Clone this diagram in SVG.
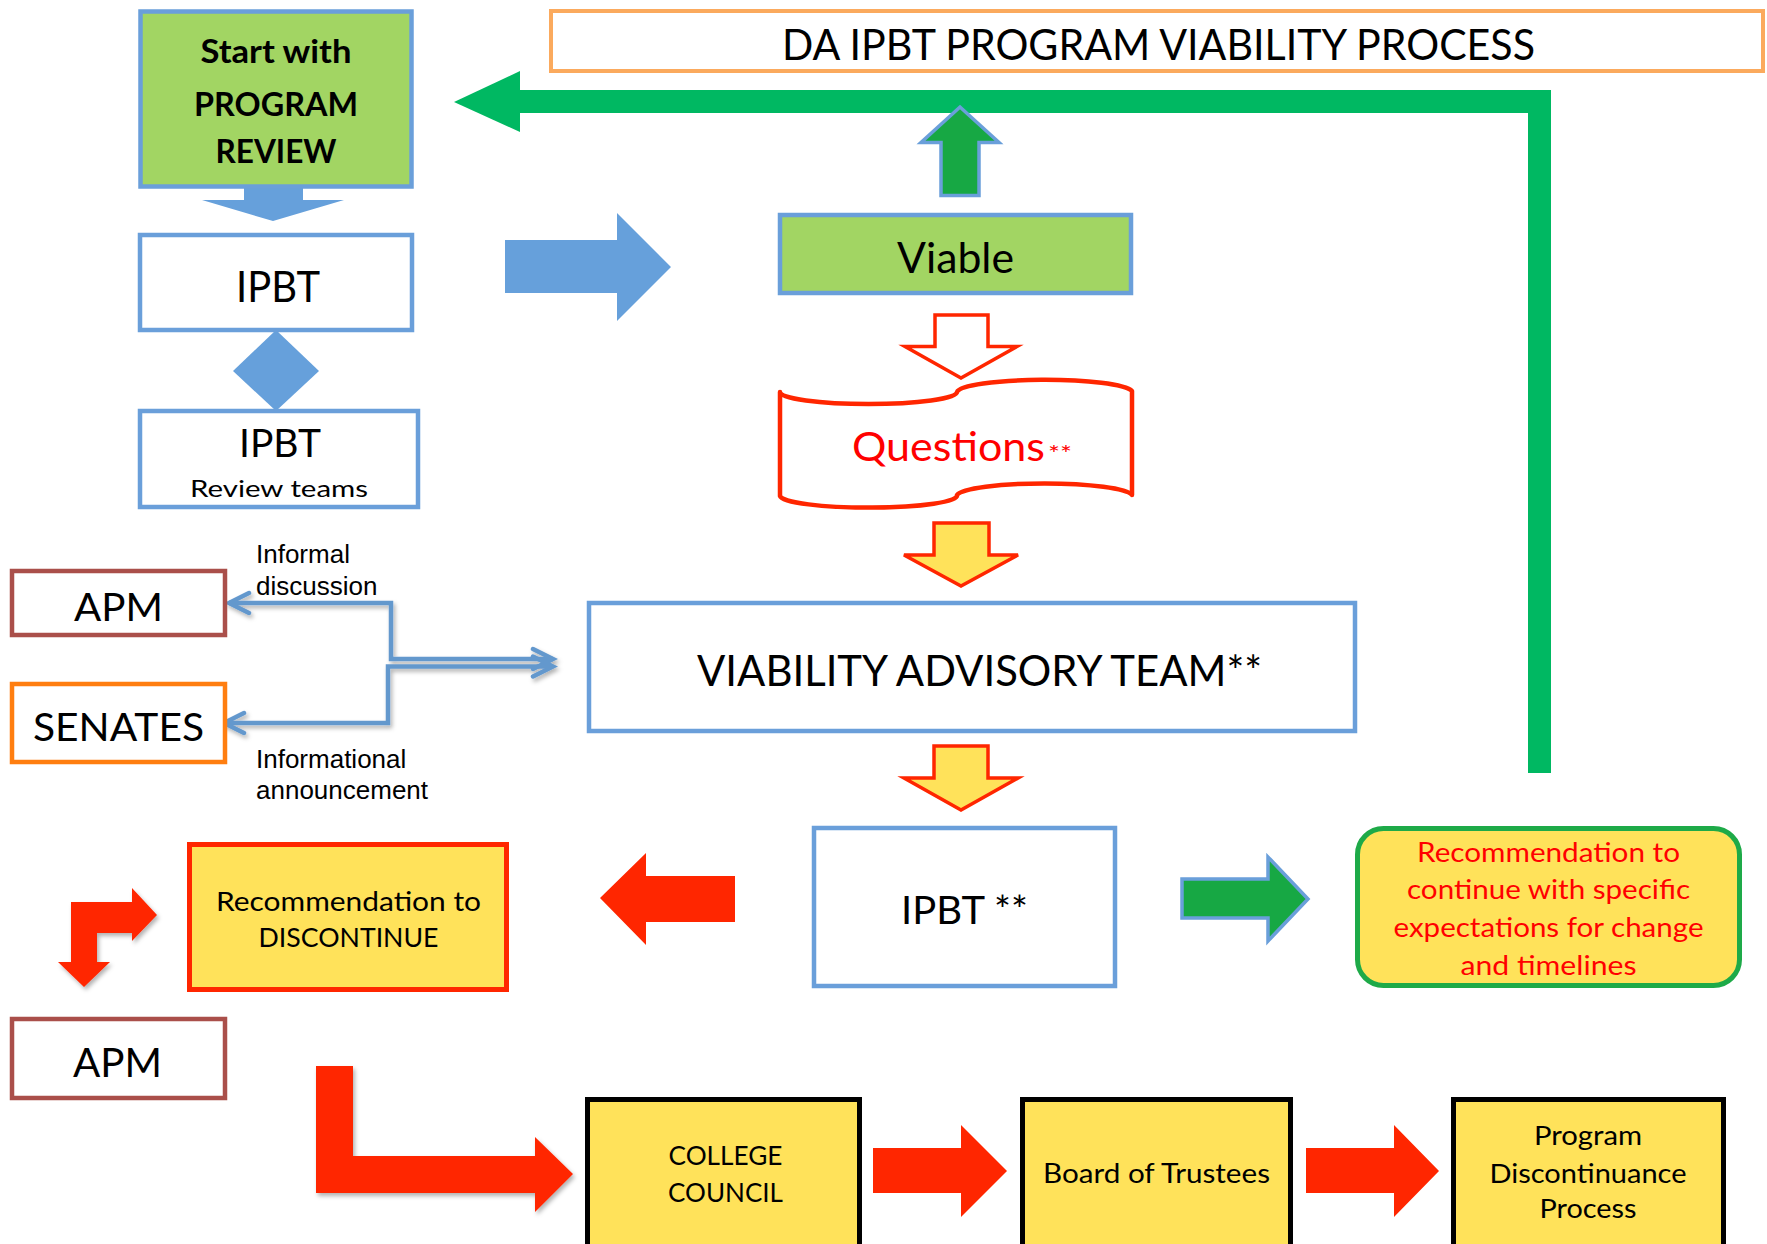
<svg xmlns="http://www.w3.org/2000/svg" width="1767" height="1244" viewBox="0 0 1767 1244">
<defs>
<style>
.t{font-family:Lato,"Open Sans","Liberation Sans",sans-serif;fill:#000;text-anchor:middle}
.s{text-anchor:start}
.red{fill:#FF0000}
.lbl{font-family:"Liberation Sans",Arial,sans-serif;font-size:26px;fill:#000}
.bbox{fill:#fff;stroke:#6A9FDA;stroke-width:4.5}
.gbox{fill:#A2D563;stroke:#6A9FDA;stroke-width:4.5}
.ybox{fill:#FFE25A;stroke:#000;stroke-width:5}
.barrow{fill:#66A0DB}
.rarrow{fill:#FF2600}
.yarrow{fill:#FFE25A;stroke:#FF2600;stroke-width:3.5}
.garrow{fill:#17A844;stroke:#6A9FDA;stroke-width:3.5}
.conn{fill:none;stroke:#6498CD;stroke-width:4.5}
</style>
<filter id="sh" x="-20%" y="-20%" width="150%" height="150%">
<feDropShadow dx="2" dy="3" stdDeviation="2" flood-color="#000" flood-opacity="0.3"/>
</filter>
<marker id="chev" viewBox="0 0 30 30" refX="25" refY="15" markerWidth="30" markerHeight="30" markerUnits="userSpaceOnUse" orient="auto-start-reverse">
<path d="M5,5 L25,15 L5,25" fill="none" stroke="#6498CD" stroke-width="4.5" stroke-linecap="round"/>
</marker>
</defs>
<rect width="1767" height="1244" fill="#fff"/>

<g id="connectors">
<path d="M1539.5,773 V101.5 H520" fill="none" stroke="#00B862" stroke-width="23"/>
<polygon points="520,71 454,102 520,132" fill="#00B862"/>
<g filter="url(#sh)">
<path class="conn" d="M553,659 H391 V603 H229" marker-start="url(#chev)" marker-end="url(#chev)"/>
<path class="conn" d="M553,666.5 H388 V723 H224" marker-start="url(#chev)" marker-end="url(#chev)"/>
</g>
<polygon class="barrow" points="244,187 303,187 303,200 344,200 273,221 202,200 244,200"/>
<polygon class="barrow" points="505,240 617,240 617,213 671,267 617,321 617,293 505,293"/>
<polygon class="barrow" points="276,330 319,371 276,411 233,371"/>
<polygon class="garrow" points="941,195.5 941,142.5 921,142.5 960,107 999,142.5 979,142.5 979,195.5"/>
<polygon points="935,315 988,315 988,346.5 1017,346.5 961,378 905,346.5 935,346.5" fill="#fff" stroke="#FF2600" stroke-width="3.5"/>
<polygon class="yarrow" points="934,523 989,523 989,555 1018,555 961,586 904,555 934,555"/>
<polygon class="yarrow" points="934,746 988,746 988,778 1018,778 961,810 904,778 934,778"/>
<polygon class="rarrow" points="600,898 646,853 646,876 735,876 735,922 646,922 646,945"/>
<polygon class="garrow" stroke-width="4" points="1182,879 1268,879 1268,857 1308,899 1268,941 1268,918 1182,918"/>
<polygon class="rarrow" filter="url(#sh)" points="71,902 132,902 132,888 157,915 132,941 132,933 97,933 97,962 110,962 84,987 58,962 71,962"/>
<polygon class="rarrow" filter="url(#sh)" points="316,1066 353,1066 353,1156 535,1156 535,1137 573,1174 535,1212 535,1193 316,1193"/>
<polygon class="rarrow" points="873,1148 961,1148 961,1125 1007,1171 961,1217 961,1193 873,1193"/>
<polygon class="rarrow" points="1306,1148 1394,1148 1394,1125 1439,1171 1394,1217 1394,1193 1306,1193"/>
</g>

<g id="title">
<rect x="551" y="11" width="1212" height="60" fill="#fff" stroke="#FBAA5D" stroke-width="4"/>
<text class="t" x="1158.5" y="60" font-size="42" textLength="753" lengthAdjust="spacingAndGlyphs">DA IPBT PROGRAM VIABILITY PROCESS</text>
</g>

<g id="start">
<rect class="gbox" x="140.5" y="11.5" width="271" height="175" stroke-width="5"/>
<text class="t" x="276" y="63" font-size="32" font-weight="700" textLength="151" lengthAdjust="spacingAndGlyphs">Start with</text>
<text class="t" x="276" y="116" font-size="32" font-weight="700" textLength="164" lengthAdjust="spacingAndGlyphs">PROGRAM</text>
<text class="t" x="276" y="163" font-size="32" font-weight="700" textLength="121" lengthAdjust="spacingAndGlyphs">REVIEW</text>
</g>

<g id="ipbt1">
<rect class="bbox" x="140" y="235" width="272" height="95"/>
<text class="t" x="278" y="302" font-size="42" textLength="84" lengthAdjust="spacingAndGlyphs">IPBT</text>
</g>

<g id="ipbt-review-teams">
<rect class="bbox" x="140" y="411" width="278" height="96"/>
<text class="t" x="280" y="457" font-size="38" textLength="82" lengthAdjust="spacingAndGlyphs">IPBT</text>
<text class="t" x="279" y="497" font-size="24" textLength="178" lengthAdjust="spacingAndGlyphs">Review teams</text>
</g>

<g id="viable">
<rect class="gbox" x="780" y="215" width="351" height="78"/>
<text class="t" x="955.5" y="273" font-size="42" textLength="117" lengthAdjust="spacingAndGlyphs">Viable</text>
</g>

<g id="questions">
<path d="M780,392 A88,12 0 0 0 957,392 A88,13 0 0 1 1132,391 V495 A88,13 0 0 0 957,495 A88,12 0 0 1 780,496 Z" fill="#fff" stroke="#FF2600" stroke-width="4.5" stroke-linejoin="round"/>
<text class="t s red" x="852" y="461" font-size="40" textLength="193" lengthAdjust="spacingAndGlyphs">Questions</text>
<text class="t s red" x="1048" y="461" font-size="22" textLength="24" lengthAdjust="spacingAndGlyphs">**</text>
</g>

<g id="viability-advisory-team">
<rect class="bbox" x="589" y="603" width="766" height="128"/>
<text class="t" x="979.5" y="686" font-size="42" textLength="565" lengthAdjust="spacingAndGlyphs">VIABILITY ADVISORY TEAM**</text>
</g>

<g id="apm1">
<rect x="12" y="571" width="213" height="64" fill="#fff" stroke="#AA4F4A" stroke-width="4.5"/>
<text class="t" x="118.5" y="621" font-size="39" textLength="89" lengthAdjust="spacingAndGlyphs">APM</text>
</g>

<g id="senates">
<rect x="12" y="684" width="213" height="78" fill="#fff" stroke="#FF7E10" stroke-width="4.5"/>
<text class="t" x="118.5" y="741" font-size="38" textLength="171" lengthAdjust="spacingAndGlyphs">SENATES</text>
</g>

<g id="labels">
<text class="lbl" x="256" y="563">Informal</text>
<text class="lbl" x="256" y="595">discussion</text>
<text class="lbl" x="256" y="768">Informational</text>
<text class="lbl" x="256" y="799">announcement</text>
</g>

<g id="ipbt-final">
<rect class="bbox" x="814" y="828" width="301" height="158"/>
<text class="t" x="964.5" y="924" font-size="39" textLength="127" lengthAdjust="spacingAndGlyphs">IPBT **</text>
</g>

<g id="recommend-discontinue">
<rect x="189.5" y="844.5" width="317" height="145" fill="#FFE25A" stroke="#FF2600" stroke-width="5"/>
<text class="t" x="348.5" y="911" font-size="26.5" textLength="265" lengthAdjust="spacingAndGlyphs">Recommendation to</text>
<text class="t" x="348.5" y="947" font-size="26.5" textLength="180" lengthAdjust="spacingAndGlyphs">DISCONTINUE</text>
</g>

<g id="recommend-continue">
<rect x="1357.5" y="828.5" width="382" height="157" rx="26" fill="#FFE25A" stroke="#1EAA48" stroke-width="5"/>
<text class="t red" x="1548.5" y="862" font-size="26" textLength="263" lengthAdjust="spacingAndGlyphs">Recommendation to</text>
<text class="t red" x="1548.5" y="899" font-size="26" textLength="283" lengthAdjust="spacingAndGlyphs">continue with specific</text>
<text class="t red" x="1548.5" y="937" font-size="26" textLength="310" lengthAdjust="spacingAndGlyphs">expectations for change</text>
<text class="t red" x="1548.5" y="975" font-size="26" textLength="176" lengthAdjust="spacingAndGlyphs">and timelines</text>
</g>

<g id="apm2">
<rect x="12" y="1019" width="213" height="79" fill="#fff" stroke="#AA4F4A" stroke-width="4.5"/>
<text class="t" x="117.5" y="1077" font-size="40" textLength="89" lengthAdjust="spacingAndGlyphs">APM</text>
</g>

<g id="college-council">
<rect class="ybox" x="587.5" y="1099.5" width="272" height="200"/>
<text class="t" x="725.5" y="1165" font-size="26.5" textLength="114" lengthAdjust="spacingAndGlyphs">COLLEGE</text>
<text class="t" x="725.5" y="1202" font-size="26.5" textLength="115" lengthAdjust="spacingAndGlyphs">COUNCIL</text>
</g>

<g id="board-of-trustees">
<rect class="ybox" x="1022.5" y="1099.5" width="268" height="200"/>
<text class="t" x="1156.5" y="1183" font-size="27" textLength="227" lengthAdjust="spacingAndGlyphs">Board of Trustees</text>
</g>

<g id="program-discontinuance">
<rect class="ybox" x="1453.5" y="1099.5" width="270" height="200"/>
<text class="t" x="1588" y="1145" font-size="26.5" textLength="108" lengthAdjust="spacingAndGlyphs">Program</text>
<text class="t" x="1588" y="1183" font-size="26.5" textLength="197" lengthAdjust="spacingAndGlyphs">Discontinuance</text>
<text class="t" x="1588" y="1218" font-size="26.5" textLength="97" lengthAdjust="spacingAndGlyphs">Process</text>
</g>
</svg>
